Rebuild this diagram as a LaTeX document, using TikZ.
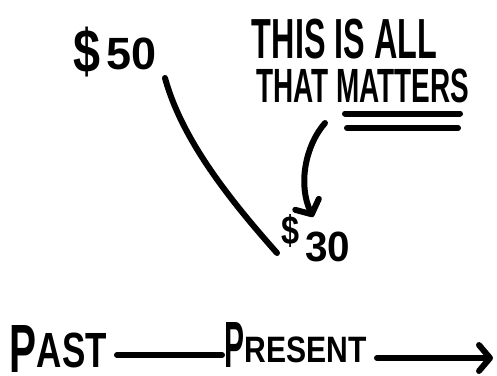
\documentclass[tikz,border=0pt]{standalone}
\usepackage{fontspec}
\setmainfont{Liberation Sans}
\usetikzlibrary{arrows.meta}
\newcommand{\hwbox}[3]{\resizebox*{#1pt}{#2pt}{\bfseries #3}}
\newsavebox{\hwsave}
\newcommand{\hwpart}[4]{\sbox{\hwsave}{\resizebox*{#1pt}{#2pt}{\bfseries #3}}\raisebox{\dimexpr\dp\hwsave+#4pt\relax}{\usebox{\hwsave}}}
\begin{document}
\begin{tikzpicture}[x=1pt,y=-1pt,
  ink/.style={line width=6pt,line cap=round,line join=round},
  lbl/.style={inner sep=0pt,outer sep=0pt},
  barb/.style={-{Straight Barb[length=11pt,width=26pt,line cap=round,line join=round]}}]
\useasboundingbox[fill=white] (0,0) rectangle (497,375);
% labels
\node[lbl] (s50) at (115,52) {\hwpart{27}{50}{\$}{0}\hspace{6pt}\hwpart{50}{32}{50}{7}};
\node[lbl] (s30) at (316,238) {\hwpart{18}{33}{\$}{14}\hspace{6pt}\hwpart{45}{30}{30}{0}};
\node[lbl] (l1) at (344.5,39) {\hwbox{185}{40}{THIS IS ALL}};
\node[lbl] (l2) at (362.5,86) {\hwbox{213}{34}{THAT MATTERS}};
\node[lbl] (past) at (58.5,348.5) {\hwpart{27}{47}{P}{0}\hwpart{70}{35}{AST}{4}};
\node[lbl] (present) at (296,344.5) {\hwpart{20}{45}{P}{0}\hwpart{122}{26}{RESENT}{4}};
% coordinates
\coordinate (u1a) at (345,113.5);
\coordinate (u1b) at (460,113.5);
\coordinate (u2a) at (347,128);
\coordinate (u2b) at (458,128);
\coordinate (arrs) at (325,123);
\coordinate (arre) at (313,217);
\coordinate (top) at (165,78);
\coordinate (bot) at (277,253);
\coordinate (tl1) at (117,355);
\coordinate (tl2) at (222,355);
\coordinate (tl3) at (377,358);
\coordinate (future) at (493,358);
% strokes
\draw[ink] (u1a) -- (u1b);
\draw[ink] (u2a) -- (u2b);
\draw[ink,barb] (arrs) .. controls (305,146) and (298,185) .. (arre);
\draw[ink] (top) .. controls (182,140) and (230,200) .. (bot);
\draw[ink] (tl1) -- (tl2);
\draw[ink,barb] (tl3) -- (future);
\end{tikzpicture}
\end{document}
